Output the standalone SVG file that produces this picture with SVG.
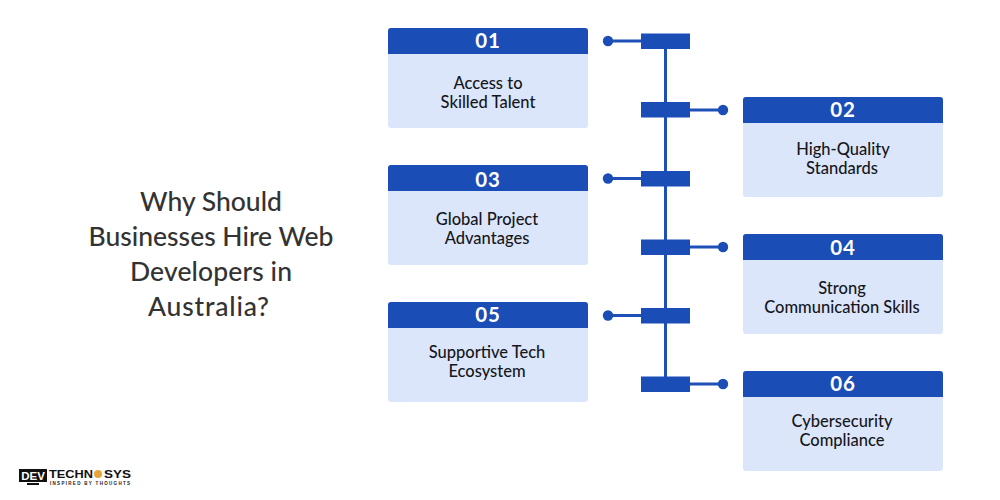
<svg xmlns="http://www.w3.org/2000/svg" width="1000" height="500" viewBox="0 0 1000 500">
<style>
.body{fill:#dce6fb}
.head{fill:#1a4db5}
.num{font:700 20.500px "Lato","Liberation Sans",sans-serif;fill:#fff;text-anchor:middle;letter-spacing:.8px}
.lab{font:500 16.500px "Lato","Liberation Sans",sans-serif;fill:#15171c;text-anchor:middle}
.ttl{font:500 26.500px "Lato","Liberation Sans",sans-serif;fill:#333;text-anchor:middle}
.ln{stroke:#1f50b8;stroke-width:3;fill:none}
.bar,.dot{fill:#1a4db5}
</style>
<defs>
<clipPath id="c"><rect width="200" height="100" rx="3"/></clipPath>
<g id="card"><rect class="body" width="200" height="100" rx="3"/><rect class="head" width="200" height="26" clip-path="url(#c)"/></g>
</defs>
<rect width="1000" height="500" fill="#fff"/>
<g id="title">
<text class="ttl" x="211" y="211">Why Should</text>
<text class="ttl" x="211" y="246">Businesses Hire Web</text>
<text class="ttl" x="211" y="281" textLength="162">Developers in</text>
<text class="ttl" x="208.500" y="316" textLength="121">Australia?</text>
</g>
<g id="connectors">
<path class="ln" d="M665.500 41V384"/>
<path class="ln" d="M608 41H641M690 110H723M608 178.500H641M690 247H723M608 315.500H641M690 384H723"/>
</g>
<g id="bars">
<rect class="bar" x="641" y="33.500" width="49" height="15.500"/>
<rect class="bar" x="641" y="102" width="49" height="15.500"/>
<rect class="bar" x="641" y="171" width="49" height="15.500"/>
<rect class="bar" x="641" y="239.500" width="49" height="15.500"/>
<rect class="bar" x="641" y="308" width="49" height="15.500"/>
<rect class="bar" x="641" y="376.500" width="49" height="15.500"/>
<circle class="dot" cx="608" cy="41" r="5.200"/>
<circle class="dot" cx="723" cy="110" r="5.200"/>
<circle class="dot" cx="608" cy="178.500" r="5.200"/>
<circle class="dot" cx="723" cy="247" r="5.200"/>
<circle class="dot" cx="608" cy="315.500" r="5.200"/>
<circle class="dot" cx="723" cy="384" r="5.200"/>
</g>
<g id="n1"><use href="#card" x="388" y="28"/><text class="num" x="488" y="48">01</text><text class="lab" x="488" y="89">Access to</text><text class="lab" x="488" y="108">Skilled Talent</text></g>
<g id="n2"><use href="#card" x="743" y="97"/><text class="num" x="843" y="117">02</text><text class="lab" x="843" y="155">High-Quality</text><text class="lab" x="842" y="174">Standards</text></g>
<g id="n3"><use href="#card" x="388" y="165"/><text class="num" x="488" y="187">03</text><text class="lab" x="487" y="225">Global Project</text><text class="lab" x="487" y="244">Advantages</text></g>
<g id="n4"><use href="#card" x="743" y="234"/><text class="num" x="843" y="255">04</text><text class="lab" x="842" y="294">Strong</text><text class="lab" x="842" y="313">Communication Skills</text></g>
<g id="n5"><use href="#card" x="388" y="302"/><text class="num" x="488" y="322">05</text><text class="lab" x="487" y="358">Supportive Tech</text><text class="lab" x="487" y="377">Ecosystem</text></g>
<g id="n6"><use href="#card" x="743" y="371"/><text class="num" x="843" y="391">06</text><text class="lab" x="842" y="427">Cybersecurity</text><text class="lab" x="842" y="446">Compliance</text></g>
<g id="logo">
<rect x="19" y="469" width="28" height="13" fill="#111"/>
<rect x="27" y="483" width="12" height="2" fill="#111"/>
<text x="33" y="480" text-anchor="middle" font-family="Liberation Sans,sans-serif" font-weight="700" font-size="11.500" fill="#fff">DEV</text>
<text x="49" y="478" font-family="Liberation Sans,sans-serif" font-weight="700" font-size="11.500" fill="#111" textLength="44" lengthAdjust="spacingAndGlyphs">TECHN</text>
<circle cx="98" cy="474" r="4" fill="#e8a33a"/>
<text x="104" y="478" font-family="Liberation Sans,sans-serif" font-weight="700" font-size="11.500" fill="#111" textLength="27" lengthAdjust="spacingAndGlyphs">SYS</text>
<text x="50" y="484.500" font-family="Liberation Sans,sans-serif" font-weight="700" font-size="4.500" fill="#222" textLength="80">INSPIRED BY THOUGHTS</text>
</g>
</svg>
